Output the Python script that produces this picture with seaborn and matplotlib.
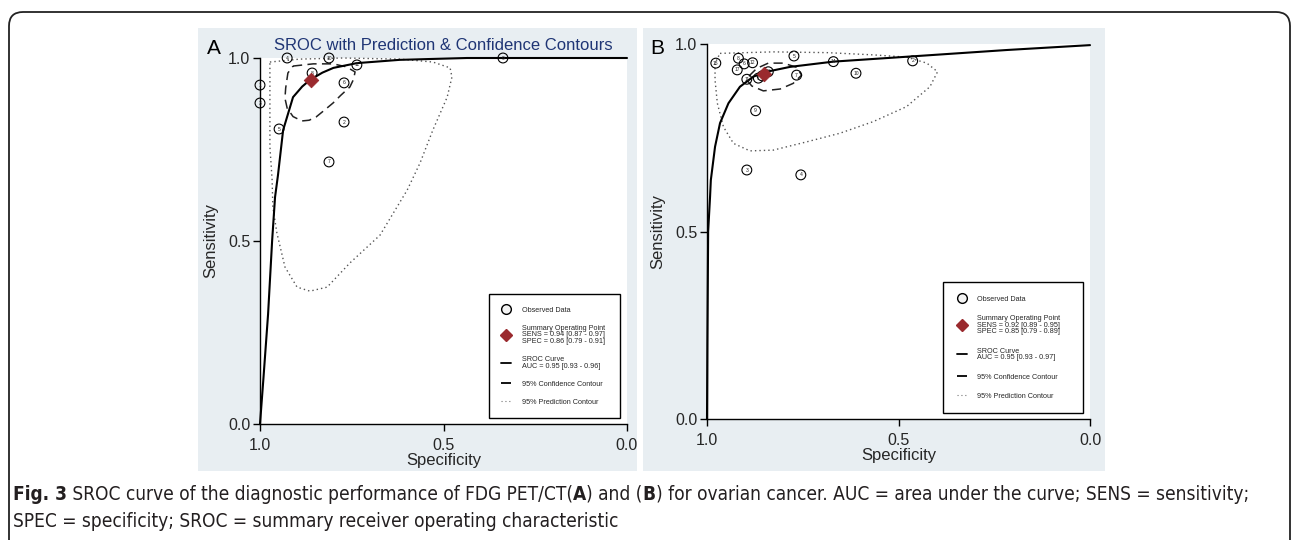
import numpy as np
import pandas as pd
import matplotlib
matplotlib.use("Agg")
import matplotlib.pyplot as plt
import seaborn as sns
from matplotlib.patches import Rectangle, FancyBboxPatch
from matplotlib.lines import Line2D
from matplotlib.transforms import IdentityTransform

# ---------------- Panel A data ----------------
a_study = ["1", "3", "4", "10", "11", "8", "9", "6", "5", "2", "7"]
a_spec = [1.0, 1.0, 0.926, 0.812, 0.736, 0.858, 0.338, 0.771, 0.948, 0.771, 0.812]
a_sens = [0.926, 0.877, 1.0, 1.0, 0.981, 0.959, 1.0, 0.932, 0.806, 0.825, 0.716]
a_sum_spec = [0.86]
a_sum_sens = [0.94]
a_sroc_spec = [1.0, 0.991, 0.978, 0.967, 0.959, 0.951, 0.937, 0.910, 0.885,
               0.864, 0.830, 0.800, 0.736, 0.619, 0.436, 0.200, 0.0]
a_sroc_sens = [0.0, 0.12, 0.30, 0.50, 0.62, 0.68, 0.803, 0.893, 0.922,
               0.940, 0.960, 0.973, 0.986, 0.995, 1.0, 1.0, 1.0]
a_conf_spec = [0.910, 0.855, 0.801, 0.765, 0.741, 0.745, 0.755, 0.780, 0.801, 0.825,
               0.847, 0.866, 0.886, 0.910, 0.926, 0.932, 0.930, 0.924, 0.910]
a_conf_sens = [0.978, 0.984, 0.984, 0.976, 0.962, 0.942, 0.921, 0.898, 0.877, 0.857,
               0.839, 0.830, 0.828, 0.840, 0.863, 0.890, 0.918, 0.959, 0.978]
a_pred_spec = [0.973, 0.891, 0.774, 0.619, 0.529, 0.482, 0.477, 0.490, 0.529, 0.564,
               0.599, 0.673, 0.755, 0.817, 0.864, 0.899, 0.932, 0.954, 0.965, 0.967,
               0.970, 0.973, 0.973, 0.973]
a_pred_sens = [0.989, 0.997, 1.0, 0.997, 0.989, 0.973, 0.948, 0.893, 0.803, 0.713,
               0.639, 0.516, 0.440, 0.374, 0.363, 0.374, 0.429, 0.522, 0.593, 0.667,
               0.713, 0.757, 0.893, 0.989]

# ---------------- Panel B data ----------------
b_study = ["15", "8", "6", "12", "17", "11", "1", "16", "13", "5", "7", "14", "10", "2", "9", "3", "4"]
b_spec = [0.977, 0.918, 0.903, 0.881, 0.921, 0.896, 0.866, 0.840, 0.856, 0.773, 0.766,
          0.670, 0.611, 0.463, 0.873, 0.896, 0.755]
b_sens = [0.949, 0.962, 0.947, 0.950, 0.931, 0.906, 0.909, 0.926, 0.915, 0.968, 0.917,
          0.953, 0.922, 0.955, 0.822, 0.664, 0.651]
b_sum_spec = [0.85]
b_sum_sens = [0.92]
b_sroc_spec = [1.0, 0.999, 0.997, 0.992, 0.990, 0.979, 0.966, 0.944, 0.914, 0.879,
               0.844, 0.783, 0.670, 0.479, 0.217, 0.0]
b_sroc_sens = [0.0, 0.20, 0.50, 0.593, 0.637, 0.726, 0.789, 0.842, 0.886, 0.913,
               0.926, 0.939, 0.953, 0.966, 0.984, 0.997]
b_conf_spec = [0.896, 0.883, 0.853, 0.809, 0.775, 0.753, 0.766, 0.801, 0.840, 0.870, 0.888, 0.896]
b_conf_sens = [0.904, 0.888, 0.875, 0.880, 0.895, 0.917, 0.938, 0.949, 0.949, 0.935, 0.917, 0.904]
b_pred_spec = [0.966, 0.827, 0.687, 0.566, 0.479, 0.426, 0.398, 0.418, 0.479, 0.566,
               0.653, 0.740, 0.827, 0.888, 0.931, 0.957, 0.973, 0.979, 0.979, 0.966]
b_pred_sens = [0.975, 0.979, 0.977, 0.971, 0.965, 0.949, 0.926, 0.886, 0.833, 0.793,
               0.762, 0.739, 0.717, 0.715, 0.735, 0.779, 0.842, 0.904, 0.949, 0.975]

legend_a = ["Observed Data",
            "Summary Operating Point\nSENS = 0.94 [0.87 - 0.97]\nSPEC = 0.86 [0.79 - 0.91]",
            "SROC Curve\nAUC = 0.95 [0.93 - 0.96]",
            "95% Confidence Contour",
            "95% Prediction Contour"]
legend_b = ["Observed Data",
            "Summary Operating Point\nSENS = 0.92 [0.89 - 0.95]\nSPEC = 0.85 [0.79 - 0.89]",
            "SROC Curve\nAUC = 0.95 [0.93 - 0.97]",
            "95% Confidence Contour",
            "95% Prediction Contour"]

sns.set_theme(style="white")
plt.rcParams['font.family'] = ['Liberation Sans', 'DejaVu Sans']

W, H = 1292, 540
fig = plt.figure(figsize=(W / 100, H / 100), dpi=100)
fig.patch.set_facecolor("white")

BG = "#e8eef2"
RED = "#9a2a2e"

def px_rect(x0, y0, x1, y1):
    return [x0 / W, 1 - y1 / H, (x1 - x0) / W, (y1 - y0) / H]

# panel backgrounds
for (x0, y0, x1, y1) in [(198, 28, 637, 471), (643, 28, 1105, 471)]:
    r = px_rect(x0, y0, x1, y1)
    fig.patches.append(Rectangle((r[0], r[1]), r[2], r[3], transform=fig.transFigure,
                                 facecolor=BG, edgecolor="none", zorder=-5))

# outer rounded frame
frame = FancyBboxPatch((9, -30), 1281, 540 - 12 + 30,
                       boxstyle="round,pad=0,rounding_size=14",
                       transform=IdentityTransform(), facecolor="none",
                       edgecolor="#222222", linewidth=1.3, zorder=10)
fig.patches.append(frame)

axA = fig.add_axes(px_rect(260, 58, 627, 424))
axB = fig.add_axes(px_rect(707, 44, 1090, 419))


def draw_panel(ax, study, spec, sens, sspec, ssens, sroc_x, sroc_y,
               conf_x, conf_y, pred_x, pred_y):
    ax.set_facecolor("white")
    df_pred = pd.DataFrame({"spec": pred_x, "sens": pred_y})
    sns.lineplot(data=df_pred, x="spec", y="sens", sort=False, estimator=None, ax=ax,
                 color="#555555", linewidth=1.0, linestyle=(0, (1, 2.2)), clip_on=False)
    df_conf = pd.DataFrame({"spec": conf_x, "sens": conf_y})
    sns.lineplot(data=df_conf, x="spec", y="sens", sort=False, estimator=None, ax=ax,
                 color="#222222", linewidth=1.1, linestyle=(0, (6, 3.5)), clip_on=False)
    df_sroc = pd.DataFrame({"spec": sroc_x, "sens": sroc_y})
    sns.lineplot(data=df_sroc, x="spec", y="sens", sort=False, estimator=None, ax=ax,
                 color="black", linewidth=1.5, clip_on=False)
    df_pts = pd.DataFrame({"spec": spec, "sens": sens, "study": study})
    sns.scatterplot(data=df_pts, x="spec", y="sens", ax=ax, s=50, marker="o",
                    facecolor="none", edgecolor="black", linewidth=0.8, clip_on=False, zorder=5)
    for x, y, t in zip(spec, sens, study):
        ax.text(x, y, t, fontsize=3.6, ha="center", va="center", color="#222222",
                zorder=6, clip_on=False)
    sns.scatterplot(x=sspec, y=ssens, ax=ax, s=55, marker="D", color=RED,
                    edgecolor=RED, zorder=7, clip_on=False)

    ax.set_xlim(1.0, 0.0)
    ax.set_ylim(0.0, 1.0)
    ax.set_xticks([1.0, 0.5, 0.0])
    ax.set_yticks([0.0, 0.5, 1.0])
    ax.set_xticklabels(["1.0", "0.5", "0.0"])
    ax.set_yticklabels(["0.0", "0.5", "1.0"])
    for s in ["top", "right"]:
        ax.spines[s].set_visible(False)
    for s in ["left", "bottom"]:
        ax.spines[s].set_color("black")
        ax.spines[s].set_linewidth(1.0)
    ax.tick_params(axis="both", which="both", direction="out", length=5, width=1,
                   color="black", labelsize=11.5, bottom=True, left=True)
    ax.tick_params(axis="x", pad=5)
    ax.tick_params(axis="y", pad=2)
    ax.set_xlabel("Specificity", fontsize=12, labelpad=0)
    ax.set_ylabel("Sensitivity", fontsize=12, labelpad=7)

    handles = [
        Line2D([], [], linestyle="none", marker="o", markersize=7, markerfacecolor="#f4f4f4",
               markeredgecolor="black", markeredgewidth=1.0),
        Line2D([], [], linestyle="none", marker="D", markersize=6, color=RED),
        Line2D([], [], color="black", linewidth=1.3),
        Line2D([], [], color="black", linewidth=1.3, linestyle=(0, (8, 3))),
        Line2D([], [], color="#777777", linewidth=0.8, linestyle=(0, (1, 2.5))),
    ]
    return handles


hA = draw_panel(axA, a_study, a_spec, a_sens, a_sum_spec, a_sum_sens,
                a_sroc_spec, a_sroc_sens, a_conf_spec, a_conf_sens,
                a_pred_spec, a_pred_sens)
hB = draw_panel(axB, b_study, b_spec, b_sens, b_sum_spec, b_sum_sens,
                b_sroc_spec, b_sroc_sens, b_conf_spec, b_conf_sens,
                b_pred_spec, b_pred_sens)

for ax, handles, labels, box, lsp, bpad in [
        (axA, hA, legend_a, (0.623, 0.016, 0.358, 0.334), 1.5, 1.75),
        (axB, hB, legend_b, (0.617, 0.015, 0.366, 0.340), 1.7, 1.85)]:
    leg = ax.legend(handles, labels, loc="lower left", bbox_to_anchor=box, mode="expand",
                    fontsize=5.2, frameon=True, fancybox=False, edgecolor="black",
                    framealpha=1, handlelength=1.4, handletextpad=1.4, labelspacing=lsp,
                    borderpad=bpad, borderaxespad=0)
    leg.get_frame().set_linewidth(1.0)
    for t in leg.get_texts():
        t.set_linespacing(0.95)

# panel letters / title
fig.text(207 / W, 1 - 49 / H, "A", fontsize=15, ha="left", va="center", color="black")
fig.text(650 / W, 1 - 48 / H, "B", fontsize=15, ha="left", va="center", color="black")
fig.text(443 / W, 1 - 45 / H, "SROC with Prediction & Confidence Contours", fontsize=12,
         ha="center", va="center", color="#1f3575")

# caption
cax = fig.add_axes([0, 0, 1, 1])
cax.axis("off")
cap_font = ["Liberation Sans Narrow", "DejaVu Sans"]
y1 = 1 - 500 / H
y2 = 1 - 527 / H
CAP_COL = "#231f20"
pieces = [(" SROC curve of the diagnostic performance of FDG PET/CT(", "normal"),
          ("A", "bold"), (") and (", "normal"), ("B", "bold"),
          (") for ovarian cancer. AUC = area under the curve; SENS = sensitivity;", "normal")]
line2 = "SPEC = specificity; SROC = summary receiver operating characteristic"


def build_caption(fs):
    arts = []
    t = cax.text(13 / W, y1, "Fig. 3", fontsize=fs, fontweight="bold", family=cap_font,
                 fontstretch="condensed", va="baseline", color=CAP_COL)
    arts.append(t)
    for txt, wt in pieces:
        t = cax.annotate(txt, xy=(1, 0), xycoords=t, fontsize=fs, fontweight=wt,
                         family=cap_font, fontstretch="condensed",
                         va="bottom", ha="left", color=CAP_COL)
        arts.append(t)
    t2 = cax.text(13 / W, y2, line2, fontsize=fs, family=cap_font, fontstretch="condensed",
                  va="baseline", color=CAP_COL)
    arts.append(t2)
    return arts


arts = build_caption(12)
fig.canvas.draw()
rend = fig.canvas.get_renderer()
right = arts[-2].get_window_extent(rend).x1
scale = (1248 - 13) / (right - 13)
for a in arts:
    a.remove()
build_caption(12 * scale)

fig.savefig("out.png", dpi=100)
